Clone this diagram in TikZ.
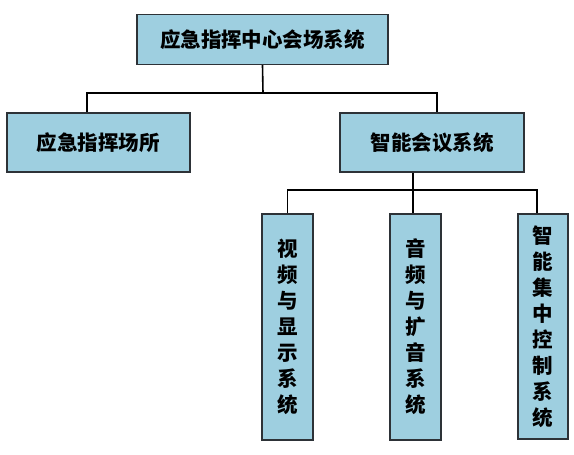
\documentclass[tikz,border=0pt]{standalone}
\usepackage{fontspec}
\newfontfamily\cjk{Noto Sans CJK SC}[BoldFont={Noto Sans CJK SC Black}]
\definecolor{boxblue}{RGB}{158,207,224}
\definecolor{boxedge}{RGB}{45,50,55}
\tikzset{
  box/.style={draw=boxedge, line width=1.3pt, fill=boxblue, inner sep=0pt,
    font=\cjk\bfseries\fontsize{20.5}{26}\selectfont, text=black, align=center},
  link/.style={draw=black, line width=1.6pt}
}
\begin{document}
\begin{tikzpicture}[x=1pt,y=-1pt]
\useasboundingbox (0,0) rectangle (574,455);
\node[box, minimum width=251pt, minimum height=50pt] (T) at (262.5,39.5) {应急指挥中心会场系统};
\node[box, minimum width=183pt, minimum height=59pt] (L) at (98.5,142.5) {应急指挥场所};
\node[box, minimum width=184pt, minimum height=59pt] (R) at (432,142.5) {智能会议系统};
\node[box, minimum width=51pt, minimum height=226pt] (B1) at (287.5,327) {视\\频\\与\\显\\示\\系\\统};
\node[box, minimum width=51pt, minimum height=226pt] (B2) at (415.5,327) {音\\频\\与\\扩\\音\\系\\统};
\node[box, minimum width=50pt, minimum height=225pt] (B3) at (543,326.5) {智\\能\\集\\中\\控\\制\\系\\统};
\coordinate (j1) at (263,93);
\coordinate (j2) at (413,190);
\draw[link] (T.south) -- (j1);
\draw[link] ([xshift=-11.5pt]L.north) |- (j1) -| ([xshift=5pt]R.north);
\draw[link] ([xshift=-19pt]R.south) -- (j2);
\draw[link] (B1.north) |- (j2) -| ([xshift=-6pt]B3.north);
\draw[link] (j2) -- ([xshift=-2.5pt]B2.north);
\end{tikzpicture}
\end{document}
